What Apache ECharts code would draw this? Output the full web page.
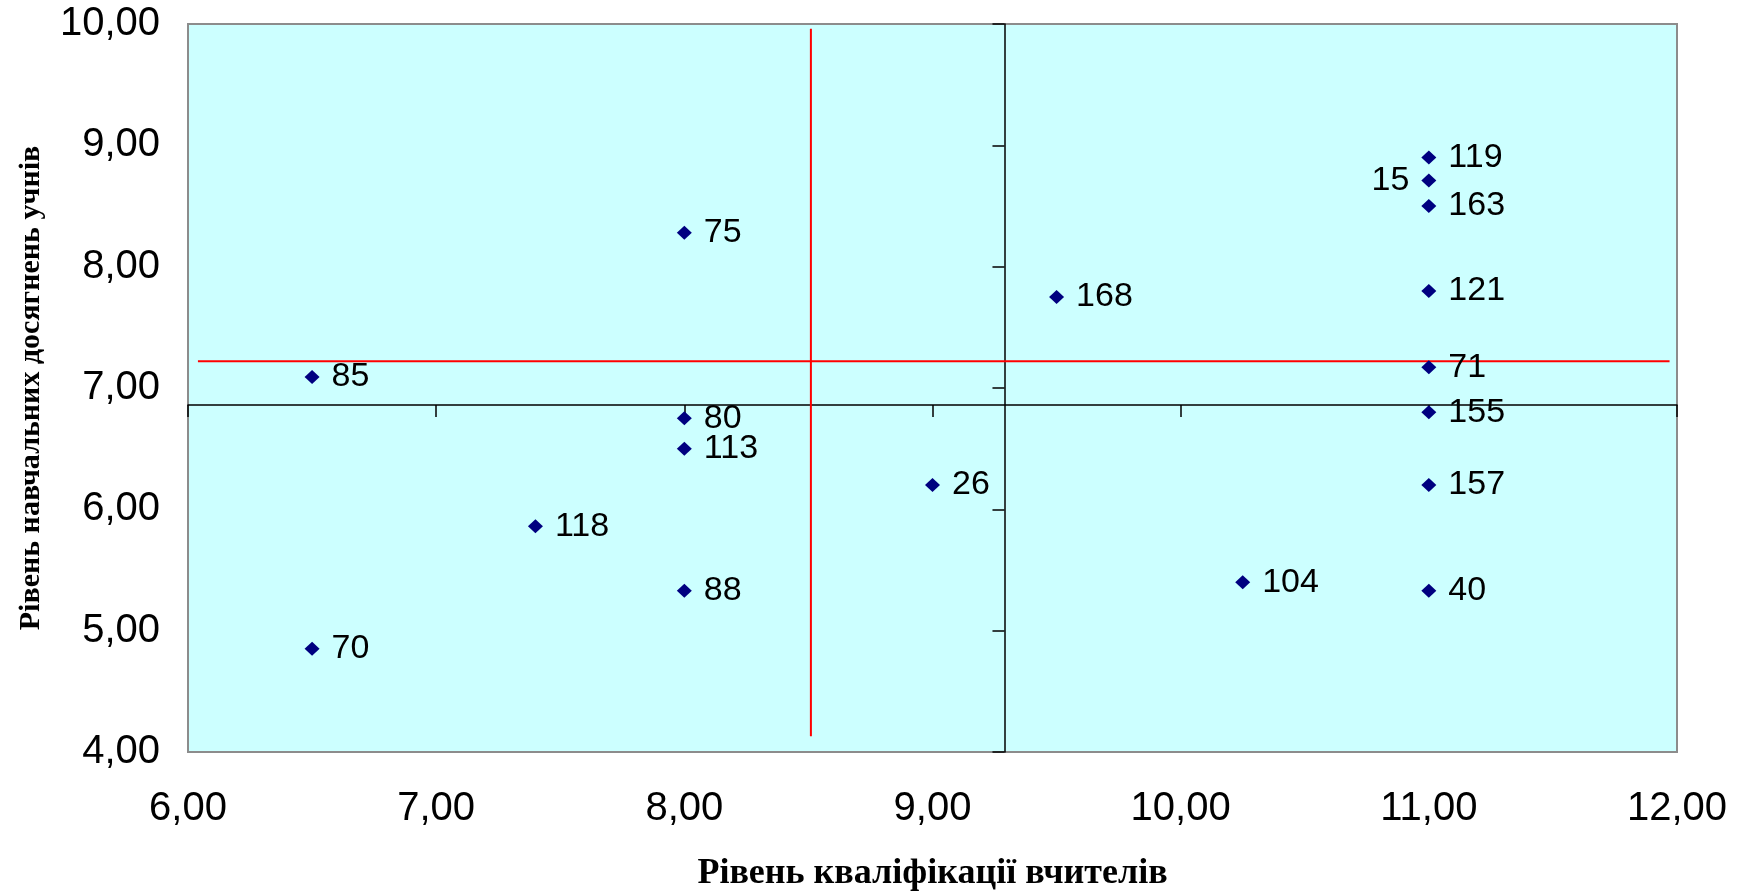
<!DOCTYPE html>
<html>
<head>
<meta charset="utf-8">
<script src="https://cdn.jsdelivr.net/npm/echarts@6/dist/echarts.min.js"></script>
<style>
html, body { margin: 0; padding: 0; background: #fff; }
#chart { width: 1750px; height: 894px; }
</style>
</head>
<body>
<div id="chart"></div>
<script>
// номер школи, рівень кваліфікації (x), рівень досягнень (y)
const schools = ['119', '15', '163', '121', '71', '155', '157', '40', '104', '168', '75', '85', '80', '113', '26', '118', '88', '70'];
const qualification = [11.0, 11.0, 11.0, 11.0, 11.0, 11.0, 11.0, 11.0, 10.25, 9.5, 8.0, 6.5, 8.0, 8.0, 9.0, 7.4, 8.0, 6.5];
const achievement = [8.90, 8.71, 8.50, 7.80, 7.17, 6.80, 6.20, 5.33, 5.40, 7.75, 8.28, 7.09, 6.75, 6.50, 6.20, 5.86, 5.33, 4.85];
const leftLabels = ['15'];

// осі
const xRange = [6, 12];
const yRange = [4, 10];
const xCross = 9.29;   // де перетинає вертикальна вісь
const yCross = 6.86;   // де перетинає горизонтальна вісь

// червоні лінії (середні)
const meanX = 8.51, meanXSpan = [4.13, 9.96];
const meanY = 7.22, meanYSpan = [6.04, 11.97];

const G = { left: 188, top: 24, right: 73, bottom: 142 };
const gridW = 1750 - G.left - G.right;
const gridH = 894 - G.top - G.bottom;

const fmt = v => v.toFixed(2).replace('.', ',');

const chart = echarts.init(document.getElementById('chart'));

const points = schools.map((s, i) => ({
  value: [qualification[i], achievement[i]],
  name: s,
  label: { position: leftLabels.includes(s) ? 'left' : 'right' }
}));

const option = {
  animation: false,
  grid: {
    left: G.left, top: G.top, right: G.right, bottom: G.bottom,
    outerBoundsMode: 'none',
    containLabel: false,
    show: true,
    backgroundColor: '#CCFFFF',
    borderColor: '#8C8C8C',
    borderWidth: 2
  },
  xAxis: [
    {
      type: 'value', min: xRange[0], max: xRange[1], interval: 1,
      name: 'Рівень кваліфікації вчителів',
      nameLocation: 'middle',
      nameGap: 104,
      nameTextStyle: { fontFamily: 'Liberation Serif', fontWeight: 'bold', fontSize: 36, color: '#000' },
      axisLine: { show: false },
      axisTick: { show: false },
      splitLine: { show: false },
      axisLabel: { formatter: fmt, fontFamily: 'Liberation Sans', fontSize: 40, color: '#000', margin: 37 }
    },
    {
      // вісь у точці перетину
      type: 'value', min: xRange[0], max: xRange[1], interval: 1,
      position: 'bottom',
      offset: -(yCross - yRange[0]) / (yRange[1] - yRange[0]) * gridH,
      axisLine: { show: true, lineStyle: { color: '#000', width: 1.5 } },
      axisTick: { show: true, length: 12, lineStyle: { color: '#000', width: 1.5 } },
      axisLabel: { show: false },
      splitLine: { show: false }
    }
  ],
  yAxis: [
    {
      type: 'value', min: yRange[0], max: yRange[1], interval: 1,
      name: 'Рівень навчальних досягнень учнів',
      nameLocation: 'middle',
      nameGap: 142,
      nameTextStyle: { fontFamily: 'Liberation Serif', fontWeight: 'bold', fontSize: 30, color: '#000' },
      axisLine: { show: false },
      axisTick: { show: false },
      splitLine: { show: false },
      axisLabel: { formatter: fmt, fontFamily: 'Liberation Sans', fontSize: 40, color: '#000', margin: 28 }
    },
    {
      type: 'value', min: yRange[0], max: yRange[1], interval: 1,
      position: 'left',
      offset: -(xCross - xRange[0]) / (xRange[1] - xRange[0]) * gridW,
      axisLine: { show: true, lineStyle: { color: '#000', width: 1.5 } },
      axisTick: { show: true, length: 12, lineStyle: { color: '#000', width: 1.5 } },
      axisLabel: { show: false },
      splitLine: { show: false }
    }
  ],
  series: [
    {
      type: 'line',
      data: [[meanX, meanXSpan[0]], [meanX, meanXSpan[1]]],
      symbol: 'none',
      silent: true,
      lineStyle: { color: '#FF0000', width: 2 },
      z: 3
    },
    {
      type: 'line',
      data: [[meanYSpan[0], meanY], [meanYSpan[1], meanY]],
      symbol: 'none',
      silent: true,
      lineStyle: { color: '#FF0000', width: 2 },
      z: 3
    },
    {
      type: 'scatter',
      data: points,
      symbol: 'diamond',
      symbolSize: [15, 14],
      itemStyle: { color: '#000080', opacity: 1 },
      label: {
        show: true,
        formatter: p => p.name,
        distance: 12,
        fontFamily: 'Liberation Sans',
        fontSize: 34,
        color: '#000'
      },
      z: 4
    }
  ]
};

chart.setOption(option);
</script>
</body>
</html>
